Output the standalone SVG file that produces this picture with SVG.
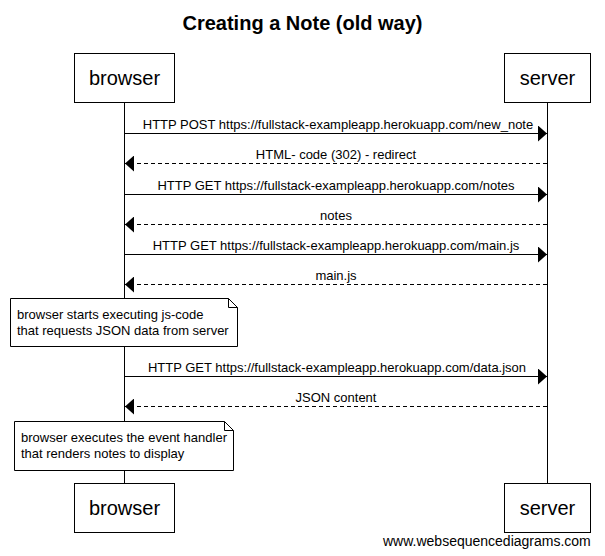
<svg xmlns="http://www.w3.org/2000/svg" width="605" height="556" viewBox="0 0 605 556">
  <style>
    text { font-family: "Liberation Sans", Arial, sans-serif; fill: #000; }
    .title { font-size: 20px; font-weight: bold; text-anchor: middle; }
    .actor rect { fill: #fff; stroke: #000; stroke-width: 1; }
    .actor text { font-size: 20px; text-anchor: middle; }
    .life { stroke: #000; stroke-width: 1; }
    .msg { stroke: #000; stroke-width: 1; fill: none; }
    .ret { stroke-dasharray: 4 3; }
    .lbl { font-size: 13px; text-anchor: middle; }
    .note path { fill: #fff; stroke: #000; stroke-width: 1; }
    .note text { font-size: 13px; }
    .foot { font-size: 14px; }
  </style>
  <defs>
    <marker id="head" viewBox="0 0 9 16" refX="9" refY="8" markerWidth="9" markerHeight="16" markerUnits="userSpaceOnUse" orient="auto">
      <path d="M0,0 L9,8 L0,16 Z" fill="#000"/>
    </marker>
  </defs>

  <text class="title" x="302.5" y="30">Creating a Note (old way)</text>

  <!-- lifelines -->
  <g id="lifelines">
    <line class="life" x1="124.5" y1="103" x2="124.5" y2="483"/>
    <line class="life" x1="547.5" y1="103" x2="547.5" y2="483"/>
  </g>

  <!-- participants, top and bottom -->
  <g id="browser-top" class="actor">
    <rect x="74.5" y="53.5" width="100" height="49"/>
    <text x="124.5" y="85">browser</text>
  </g>
  <g id="server-top" class="actor">
    <rect x="504.5" y="53.5" width="86" height="49"/>
    <text x="547.5" y="85">server</text>
  </g>
  <g id="browser-bottom" class="actor">
    <rect x="74.5" y="483.5" width="100" height="49"/>
    <text x="124.5" y="515">browser</text>
  </g>
  <g id="server-bottom" class="actor">
    <rect x="504.5" y="483.5" width="86" height="49"/>
    <text x="547.5" y="515">server</text>
  </g>

  <!-- messages -->
  <g id="connectors">
    <line class="msg" x1="124.5" y1="133.5" x2="547" y2="133.5" marker-end="url(#head)"/>
    <line class="msg ret" x1="547" y1="163.5" x2="125" y2="163.5" marker-end="url(#head)"/>
    <line class="msg" x1="124.5" y1="194.5" x2="547" y2="194.5" marker-end="url(#head)"/>
    <line class="msg ret" x1="547" y1="224.5" x2="125" y2="224.5" marker-end="url(#head)"/>
    <line class="msg" x1="124.5" y1="254.5" x2="547" y2="254.5" marker-end="url(#head)"/>
    <line class="msg ret" x1="547" y1="284.5" x2="125" y2="284.5" marker-end="url(#head)"/>
    <line class="msg" x1="124.5" y1="376.5" x2="547" y2="376.5" marker-end="url(#head)"/>
    <line class="msg ret" x1="547" y1="406.5" x2="125" y2="406.5" marker-end="url(#head)"/>
  </g>

  <g id="labels">
    <text class="lbl" x="338" y="128.5">HTTP POST https://fullstack-exampleapp.herokuapp.com/new_note</text>
    <text class="lbl" x="336" y="158.5">HTML- code (302) - redirect</text>
    <text class="lbl" x="336" y="189.5">HTTP GET https://fullstack-exampleapp.herokuapp.com/notes</text>
    <text class="lbl" x="336" y="219.5">notes</text>
    <text class="lbl" x="336" y="249.5">HTTP GET https://fullstack-exampleapp.herokuapp.com/main.js</text>
    <text class="lbl" x="336" y="279.5">main.js</text>
    <text class="lbl" x="337" y="371.5">HTTP GET https://fullstack-exampleapp.herokuapp.com/data.json</text>
    <text class="lbl" x="336" y="401.5">JSON content</text>
  </g>

  <!-- notes -->
  <g id="note-js" class="note">
    <path d="M10.5,298.5 H228.5 L237.5,307.5 V346.5 H10.5 Z M228.5,298.5 V307.5 H237.5"/>
    <text x="17" y="319">browser starts executing js-code</text>
    <text x="17" y="335">that requests JSON data from server</text>
  </g>
  <g id="note-handler" class="note">
    <path d="M14.5,421.5 H224.5 L233.5,430.5 V470.5 H14.5 Z M224.5,421.5 V430.5 H233.5"/>
    <text x="21" y="442">browser executes the event handler</text>
    <text x="21" y="458">that renders notes to display</text>
  </g>

  <text class="foot" x="383" y="546">www.websequencediagrams.com</text>
</svg>
